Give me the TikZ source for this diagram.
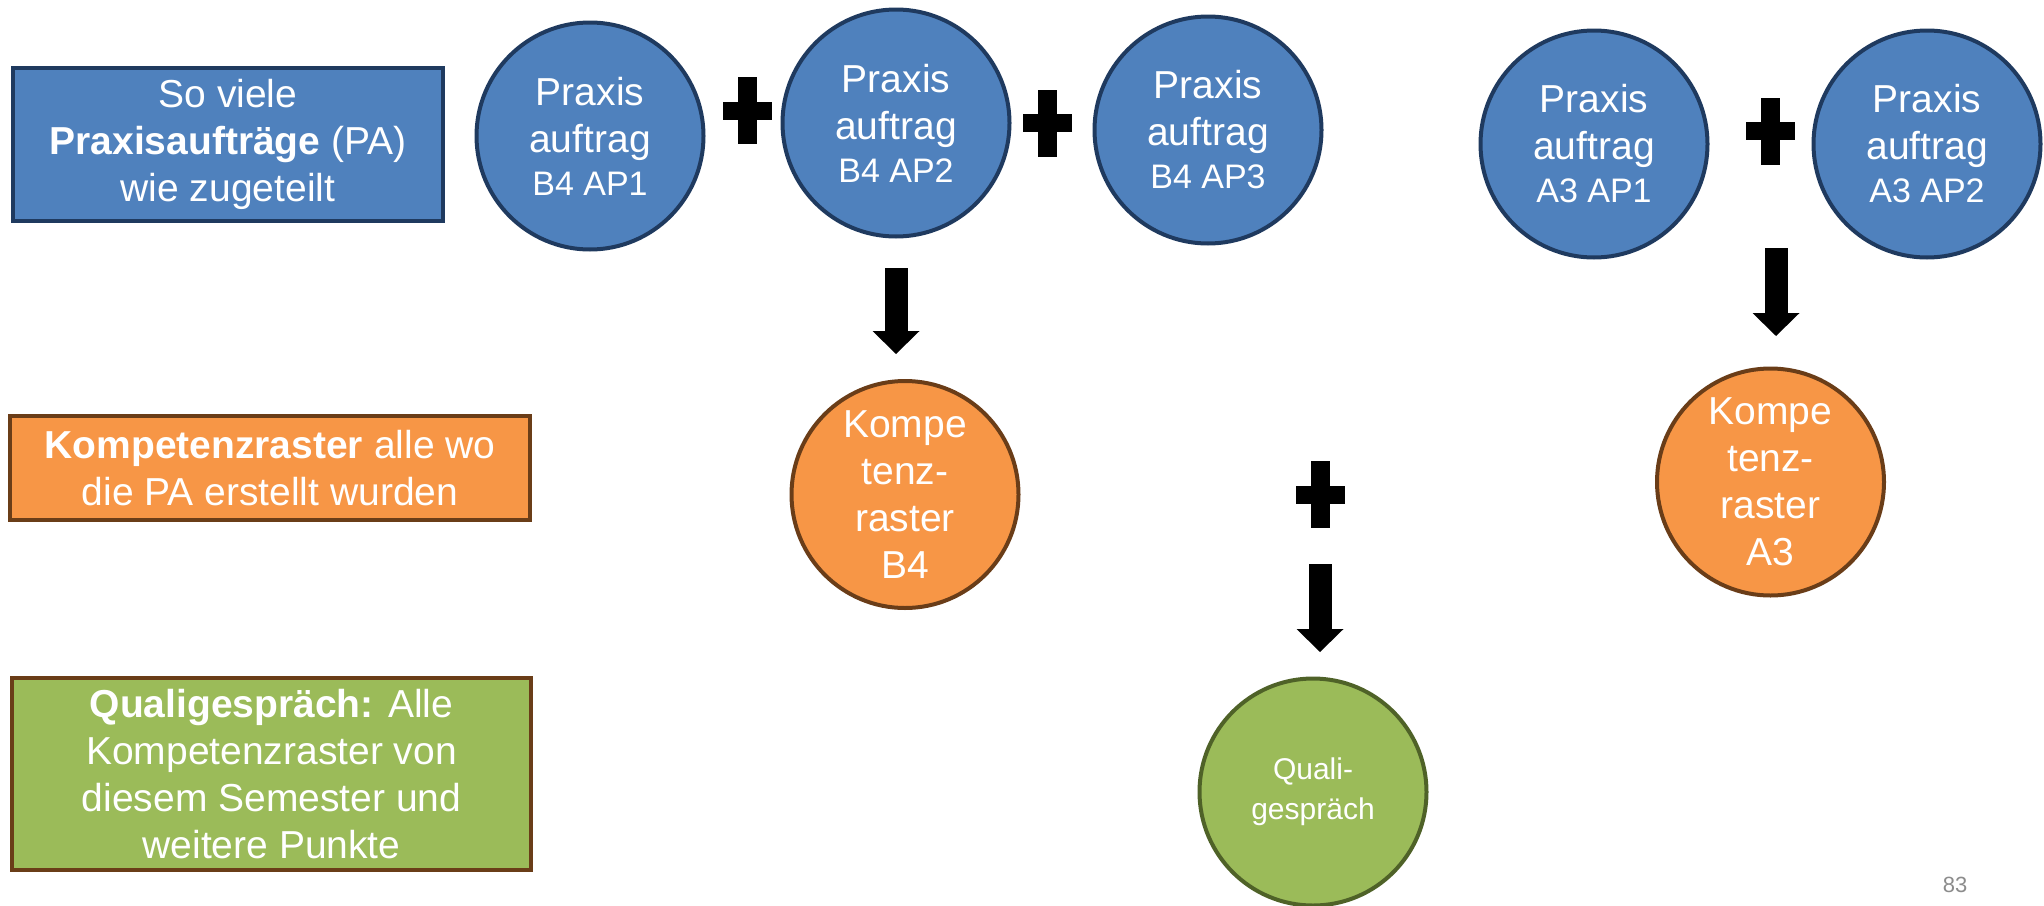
\documentclass[tikz,border=0pt]{standalone}
\usepackage{fontspec}
\setmainfont{Liberation Sans}
\usetikzlibrary{arrows.meta}
\definecolor{bluefill}{HTML}{4F81BD}
\definecolor{blueline}{HTML}{1F3A5F}
\definecolor{orangefill}{HTML}{F79646}
\definecolor{brownline}{HTML}{6A3D18}
\definecolor{greenfill}{HTML}{9BBB59}
\definecolor{greenline}{HTML}{4F6228}
\definecolor{pagegrey}{HTML}{8C8C8C}
\tikzset{
  bigtext/.style={font=\fontsize{39}{47}\selectfont},
  infobox/.style={rectangle, line width=4pt, text=white, align=center, inner sep=0pt, bigtext},
  bluebox/.style={infobox, fill=bluefill, draw=blueline},
  orangebox/.style={infobox, fill=orangefill, draw=brownline},
  greenbox/.style={infobox, fill=greenfill, draw=brownline},
  disc/.style={circle, line width=4pt, text=white, align=center, inner sep=0pt, minimum size=227pt, bigtext},
  bluedisc/.style={disc, fill=bluefill, draw=blueline},
  orangedisc/.style={disc, fill=orangefill, draw=brownline},
  greendisc/.style={disc, fill=greenfill, draw=greenline, font=\fontsize{30}{40}\selectfont},
  blockarrow/.style={draw=black, line width=23pt, -{Triangle[width=47pt,length=23pt,line width=0pt]}},
  plusmark/.pic={
    \fill[black] (-24.5,-9) rectangle (24.5,9);
    \fill[black] (-9.5,-33.5) rectangle (9.5,33.5);
  }
}
\newcommand{\apcode}[1]{{\fontsize{34}{43}\selectfont #1}}
\begin{document}
\begin{tikzpicture}[x=1pt,y=-1pt]
\useasboundingbox[fill=white] (0,0) rectangle (2044,905);

% legend boxes
\node[bluebox, minimum width=430pt, minimum height=153pt] (legendpa) at (228,144.5)
  {So viele\\\textbf{Praxisaufträge} (PA)\\wie zugeteilt};
\node[orangebox, minimum width=520pt, minimum height=104pt] (legendkr) at (270,468)
  {\textbf{Kompetenzraster} alle wo\\die PA erstellt wurden};
\node[greenbox, minimum width=519pt, minimum height=192pt] (legendqg) at (271.5,774)
  {\textbf{Qualigespräch:} Alle\\Kompetenzraster von\\diesem Semester und\\weitere Punkte};

% Praxisauftraege
\node[bluedisc] (ap1) at (590,136) {Praxis\\auftrag\\[-4pt]\apcode{B4 AP1}};
\node[bluedisc] (ap2) at (896,123) {Praxis\\auftrag\\[-4pt]\apcode{B4 AP2}};
\node[bluedisc] (ap3) at (1208,130) {Praxis\\auftrag\\[-4pt]\apcode{B4 AP3}};
\node[bluedisc] (aa1) at (1594,144) {Praxis\\auftrag\\[-4pt]\apcode{A3 AP1}};
\node[bluedisc] (aa2) at (1927,144) {Praxis\\auftrag\\[-4pt]\apcode{A3 AP2}};

% Kompetenzraster
\node[orangedisc] (kb4) at (905,494.5) {Kompe\\tenz-\\raster\\B4};
\node[orangedisc] (ka3) at (1770.5,482) {Kompe\\tenz-\\raster\\A3};

% Qualigespraech
\node[greendisc] (quali) at (1313,792) {Quali-\\gespräch};

% plus signs
\coordinate (plusone) at (747.5,110.5);
\coordinate (plustwo) at (1047.5,123);
\coordinate (plusthree) at (1770,131);
\coordinate (plusfour) at (1320,494.5);
\pic at (plusone) {plusmark};
\pic at (plustwo) {plusmark};
\pic at (plusthree) {plusmark};
\pic at (plusfour) {plusmark};

% arrows
\draw[blockarrow, shorten <=29.5pt, shorten >=25pt] (ap2.south) -- (ap2.south |- kb4.north);
\coordinate (a3start) at (1776,248);
\draw[blockarrow, shorten >=30.5pt] (a3start) -- (a3start |- ka3.north);
\draw[blockarrow, shorten <=69.5pt, shorten >=24.5pt] (plusfour) -- (plusfour |- quali.north);

% page number
\node[text=pagegrey, font=\fontsize{22}{26}\selectfont, inner sep=0pt] (pagenum) at (1955,885) {83};
\end{tikzpicture}
\end{document}
